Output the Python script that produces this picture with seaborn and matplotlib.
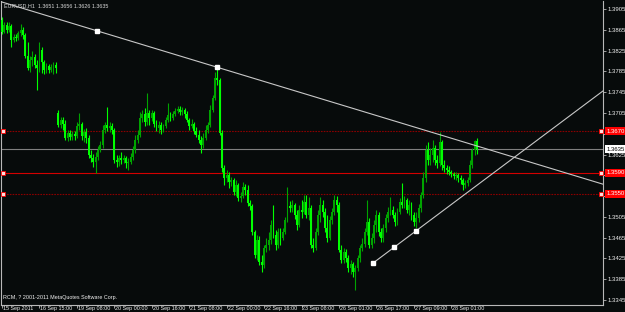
import numpy as np
import matplotlib
matplotlib.use("Agg")
import matplotlib.pyplot as plt
from matplotlib import font_manager
from matplotlib.transforms import blended_transform_factory
import seaborn as sns

# ---------------- data ----------------
symbol_text = "EURUSD,H1  1.3651 1.3656 1.3626 1.3635"
copyright_text = "RCM, ? 2001-2011 MetaQuotes Software Corp."

first_open = 1.3884
gap_opens = {24: 1.3705}

closes = [
    1.3861, 1.3874, 1.3865, 1.3872, 1.3845, 1.3851, 1.3849, 1.3859, 1.3865, 1.3855, 1.3815, 1.3792,
    1.3807, 1.3813, 1.3797, 1.3792, 1.3826, 1.3803, 1.3788, 1.3795, 1.3788, 1.3793, 1.3797, 1.3792,
    1.3682, 1.3691, 1.3684, 1.3657, 1.3666, 1.3659, 1.3664, 1.3661, 1.3680, 1.3684, 1.3661, 1.3668, 1.3657, 1.3624, 1.3618, 1.3611, 1.3620, 1.3634, 1.3643, 1.3672,
    1.3682, 1.3676, 1.3680, 1.3672, 1.3614, 1.3611, 1.3618, 1.3614, 1.3618, 1.3609, 1.3611, 1.3620, 1.3634, 1.3653, 1.3663, 1.3695, 1.3703, 1.3688, 1.3705, 1.3695,
    1.3705, 1.3684, 1.3676, 1.3682, 1.3672, 1.3680, 1.3691, 1.3701, 1.3695, 1.3703, 1.3709, 1.3713, 1.3707, 1.3711, 1.3703, 1.3691, 1.3680, 1.3684, 1.3670, 1.3663,
    1.3653, 1.3643, 1.3657, 1.3672, 1.3682, 1.3711, 1.3734, 1.3772, 1.3768, 1.3666, 1.3599, 1.3580, 1.3586, 1.3572, 1.3576, 1.3553, 1.3566, 1.3541, 1.3545, 1.3562,
    1.3557, 1.3532, 1.3526, 1.3476, 1.3432, 1.3461, 1.3418, 1.3412, 1.3445, 1.3451, 1.3461, 1.3489, 1.3470, 1.3451, 1.3476, 1.3464, 1.3476, 1.3499, 1.3526, 1.3522,
    1.3528, 1.3509, 1.3489, 1.3518, 1.3514, 1.3534, 1.3509, 1.3522, 1.3451, 1.3445, 1.3476, 1.3509, 1.3528, 1.3514, 1.3484, 1.3464, 1.3499, 1.3514, 1.3537, 1.3528,
    1.3441, 1.3422, 1.3437, 1.3426, 1.3407, 1.3414, 1.3399, 1.3407, 1.3426, 1.3445, 1.3453, 1.3476, 1.3495, 1.3451, 1.3464, 1.3489, 1.3509, 1.3476, 1.3464, 1.3484,
    1.3503, 1.3514, 1.3518, 1.3509, 1.3495, 1.3514, 1.3534, 1.3528, 1.3537, 1.3518, 1.3528, 1.3509, 1.3495, 1.3503, 1.3522, 1.3547, 1.3580, 1.3634, 1.3614, 1.3624,
    1.3638, 1.3614, 1.3609, 1.3649, 1.3605, 1.3599, 1.3595, 1.3591, 1.3587, 1.3584, 1.3586, 1.3580, 1.3576, 1.3566, 1.3570, 1.3576, 1.3605, 1.3634, 1.3651, 1.3635,
]
highs = [
    1.3890, 1.3880, 1.3880, 1.3880, 1.3876, 1.3857, 1.3857, 1.3863, 1.3876, 1.3870, 1.3859, 1.3842,
    1.3815, 1.3824, 1.3818, 1.3807, 1.3842, 1.3832, 1.3807, 1.3801, 1.3799, 1.3799, 1.3803, 1.3803,
    1.3711, 1.3697, 1.3697, 1.3691, 1.3672, 1.3672, 1.3670, 1.3670, 1.3688, 1.3705, 1.3688, 1.3674, 1.3676, 1.3663, 1.3634, 1.3626, 1.3630, 1.3641, 1.3651, 1.3682,
    1.3688, 1.3716, 1.3688, 1.3686, 1.3676, 1.3624, 1.3624, 1.3630, 1.3624, 1.3622, 1.3618, 1.3628, 1.3641, 1.3663, 1.3672, 1.3707, 1.3711, 1.3714, 1.3743, 1.3711,
    1.3711, 1.3709, 1.3691, 1.3690, 1.3688, 1.3684, 1.3697, 1.3724, 1.3707, 1.3709, 1.3714, 1.3718, 1.3718, 1.3716, 1.3714, 1.3709, 1.3695, 1.3693, 1.3688, 1.3678,
    1.3672, 1.3661, 1.3666, 1.3682, 1.3688, 1.3720, 1.3740, 1.3784, 1.3793, 1.3772, 1.3672, 1.3605, 1.3595, 1.3591, 1.3582, 1.3580, 1.3576, 1.3570, 1.3553, 1.3572,
    1.3568, 1.3566, 1.3537, 1.3530, 1.3480, 1.3470, 1.3468, 1.3432, 1.3451, 1.3464, 1.3476, 1.3499, 1.3528, 1.3480, 1.3484, 1.3484, 1.3484, 1.3505, 1.3562, 1.3536,
    1.3537, 1.3532, 1.3518, 1.3528, 1.3537, 1.3547, 1.3547, 1.3543, 1.3528, 1.3464, 1.3484, 1.3518, 1.3543, 1.3537, 1.3522, 1.3509, 1.3507, 1.3522, 1.3547, 1.3545,
    1.3534, 1.3451, 1.3445, 1.3443, 1.3432, 1.3422, 1.3418, 1.3412, 1.3432, 1.3451, 1.3464, 1.3484, 1.3537, 1.3503, 1.3474, 1.3499, 1.3518, 1.3514, 1.3484, 1.3491,
    1.3511, 1.3524, 1.3543, 1.3526, 1.3514, 1.3522, 1.3541, 1.3570, 1.3545, 1.3541, 1.3537, 1.3534, 1.3514, 1.3514, 1.3530, 1.3553, 1.3591, 1.3643, 1.3649, 1.3638,
    1.3653, 1.3643, 1.3624, 1.3668, 1.3653, 1.3614, 1.3605, 1.3603, 1.3595, 1.3591, 1.3591, 1.3589, 1.3586, 1.3580, 1.3576, 1.3582, 1.3614, 1.3638, 1.3653, 1.3656,
]
lows = [
    1.3857, 1.3859, 1.3859, 1.3861, 1.3832, 1.3842, 1.3843, 1.3845, 1.3853, 1.3847, 1.3811, 1.3788,
    1.3784, 1.3795, 1.3792, 1.3749, 1.3784, 1.3782, 1.3780, 1.3782, 1.3782, 1.3784, 1.3780, 1.3782,
    1.3678, 1.3676, 1.3672, 1.3653, 1.3651, 1.3653, 1.3653, 1.3653, 1.3657, 1.3672, 1.3653, 1.3649, 1.3647, 1.3618, 1.3611, 1.3601, 1.3589, 1.3614, 1.3630, 1.3638,
    1.3666, 1.3670, 1.3668, 1.3664, 1.3609, 1.3601, 1.3603, 1.3607, 1.3609, 1.3599, 1.3595, 1.3607, 1.3614, 1.3628, 1.3647, 1.3659, 1.3688, 1.3680, 1.3682, 1.3682,
    1.3690, 1.3678, 1.3670, 1.3666, 1.3664, 1.3668, 1.3676, 1.3688, 1.3690, 1.3691, 1.3699, 1.3705, 1.3701, 1.3701, 1.3695, 1.3688, 1.3672, 1.3676, 1.3664, 1.3659,
    1.3647, 1.3628, 1.3638, 1.3653, 1.3666, 1.3678, 1.3707, 1.3730, 1.3759, 1.3663, 1.3591, 1.3566, 1.3572, 1.3561, 1.3564, 1.3547, 1.3545, 1.3536, 1.3534, 1.3541,
    1.3547, 1.3526, 1.3518, 1.3470, 1.3426, 1.3422, 1.3412, 1.3399, 1.3407, 1.3437, 1.3441, 1.3453, 1.3464, 1.3441, 1.3445, 1.3451, 1.3461, 1.3472, 1.3495, 1.3514,
    1.3514, 1.3501, 1.3480, 1.3486, 1.3503, 1.3511, 1.3503, 1.3499, 1.3445, 1.3437, 1.3441, 1.3470, 1.3495, 1.3505, 1.3476, 1.3457, 1.3461, 1.3491, 1.3509, 1.3514,
    1.3437, 1.3416, 1.3416, 1.3418, 1.3399, 1.3395, 1.3389, 1.3364, 1.3401, 1.3418, 1.3439, 1.3447, 1.3470, 1.3445, 1.3445, 1.3455, 1.3476, 1.3468, 1.3457, 1.3457,
    1.3476, 1.3495, 1.3509, 1.3503, 1.3487, 1.3489, 1.3511, 1.3522, 1.3522, 1.3513, 1.3509, 1.3499, 1.3487, 1.3484, 1.3495, 1.3514, 1.3541, 1.3572, 1.3605, 1.3605,
    1.3611, 1.3605, 1.3599, 1.3603, 1.3595, 1.3591, 1.3588, 1.3586, 1.3582, 1.3578, 1.3576, 1.3572, 1.3568, 1.3557, 1.3561, 1.3564, 1.3572, 1.3599, 1.3624, 1.3626,
]

time_labels = ["15 Sep 2011", "16 Sep 15:00", "19 Sep 08:00", "20 Sep 00:00", "20 Sep 16:00",
               "21 Sep 08:00", "22 Sep 00:00", "22 Sep 16:00", "23 Sep 08:00", "26 Sep 01:00",
               "26 Sep 17:00", "27 Sep 09:00", "28 Sep 01:00"]
time_label_bars = [0, 16, 32, 48, 64, 80, 96, 112, 128, 144, 160, 176, 192]

price_ticks = [1.3345, 1.3385, 1.3425, 1.3465, 1.3505, 1.3545, 1.3585, 1.3625,
               1.3665, 1.3705, 1.3745, 1.3785, 1.3825, 1.3865, 1.3905]
hidden_tick_labels = [1.3545, 1.3585, 1.3665]   # covered by the red level boxes
level_prices = [1.3670, 1.3590, 1.3550]
bid_price = 1.3635

trend_down_bars = [40.6, 91.9]
trend_down_prices = [1.3863, 1.3793]
trend_up_bars = [158.5, 176.9]
trend_up_prices = [1.3416, 1.3478]

# ---------------- style ----------------
sns.set_theme(style="dark")
names = {f.name for f in font_manager.fontManager.ttflist}
if "Liberation Sans Narrow" in names:
    fam, fs, fs_small = ["Liberation Sans Narrow", "DejaVu Sans"], 4.9, 4.6
else:
    fam, fs, fs_small = ["Liberation Sans", "DejaVu Sans"], 4.3, 3.85
plt.rcParams["font.family"] = fam

BG = "#070b0b"
BEAR = "#00ff00"
BULL = "#00a400"
WHITE = "#f0f0f0"
FRAME = "#b8b8b8"

W, H = 625, 312
fig = plt.figure(figsize=(W / 100, H / 100), dpi=100, facecolor=BG)
ax = fig.add_axes([1 / W, 1 - 305 / H, 602 / W, 304 / H], facecolor=BG)

xmin, xmax = -0.43, 256.84
ax.set_xlim(xmin, xmax)
ax.set_ylim(1.33355, 1.39204)

o = np.array([first_open] + closes[:-1], dtype=float)
for k, v in gap_opens.items():
    o[k] = v
c = np.array(closes, dtype=float)
h = np.maximum(np.array(highs, dtype=float), np.maximum(o, c))
l = np.minimum(np.array(lows, dtype=float), np.minimum(o, c))
idx = np.arange(len(c))
bull = c >= o
cols = np.where(bull, BULL, BEAR)

ax.vlines(idx, l, h, colors=cols, linewidth=0.8, zorder=3)
body_lo = np.minimum(o, c)
body_h = np.maximum(np.abs(c - o), 0.00006)
ax.bar(idx, body_h, bottom=body_lo, width=0.8, color=cols, linewidth=0, zorder=4)

# horizontal levels
ax.axhline(level_prices[0], color="#8a0000", lw=0.8, ls=(0, (1.5, 1)), zorder=2)
ax.axhline(level_prices[1], color="#d40000", lw=0.8, zorder=2)
ax.axhline(level_prices[2], color="#8a0000", lw=0.8, ls=(0, (1.5, 1)), zorder=2)
ax.axhline(bid_price, color="#808080", lw=0.8, zorder=2)
for p in level_prices:
    ax.plot([0.3, 255.8], [p, p], ls="none", marker="s", ms=2.6, mfc="#ffdddd",
            mec="#ff0000", mew=0.6, zorder=6)

# trend lines
def ray(bx, py, x_start):
    slope = (py[1] - py[0]) / (bx[1] - bx[0])
    xs = [x_start, xmax + 1]
    ys = [py[0] + slope * (x - bx[0]) for x in xs]
    return xs, ys

xs, ys = ray(trend_down_bars, trend_down_prices, 2 * trend_down_bars[0] - trend_down_bars[1])
sns.lineplot(x=xs, y=ys, ax=ax, color="#c8c8c8", lw=0.8, zorder=5, legend=False)
ax.plot(trend_down_bars, trend_down_prices, ls="none", marker="s", ms=2.6, color="white", zorder=7)

xs, ys = ray(trend_up_bars, trend_up_prices, trend_up_bars[0])
sns.lineplot(x=xs, y=ys, ax=ax, color="#c8c8c8", lw=0.8, zorder=5, legend=False)
mid = [(trend_up_bars[0] + trend_up_bars[1]) / 2, (trend_up_prices[0] + trend_up_prices[1]) / 2]
ax.plot(trend_up_bars + [mid[0]], trend_up_prices + [mid[1]], ls="none", marker="s",
        ms=2.6, color="white", zorder=7)

# axes frame
ax.spines["top"].set_visible(False)
for s in ["left", "right", "bottom"]:
    ax.spines[s].set_color(FRAME)
    ax.spines[s].set_linewidth(0.8)
ax.grid(False)

ax.yaxis.tick_right()
ax.set_yticks(price_ticks)
ax.set_yticklabels(["" if p in hidden_tick_labels else f"{p:.4f}" for p in price_ticks])
ax.tick_params(axis="y", right=True, left=False, length=2, width=0.6, color=FRAME,
               labelcolor=WHITE, labelsize=fs, pad=1.5)
ax.set_xticks(time_label_bars)
ax.set_xticklabels([])
ax.tick_params(axis="x", bottom=True, length=2, width=0.6, color=FRAME, direction="out")

tb = blended_transform_factory(ax.transData, ax.transAxes)
for b, t in zip(time_label_bars, time_labels):
    ax.text(b + 0.4, -0.011, t, transform=tb, ha="left", va="center", fontsize=fs_small,
            color=WHITE, clip_on=False)

ty = blended_transform_factory(ax.transAxes, ax.transData)
for p in level_prices:
    ax.text(1.0055, p, f"{p:.4f}", transform=ty, ha="left", va="center", fontsize=fs,
            color="#ffffff", clip_on=False, zorder=10,
            bbox=dict(boxstyle="square,pad=0.25", fc="#ff0000", ec="#ff0000", lw=0))
ax.text(1.0055, bid_price, f"{bid_price:.4f}", transform=ty, ha="left", va="center",
        fontsize=fs, color="#000000", clip_on=False, zorder=10,
        bbox=dict(boxstyle="square,pad=0.25", fc="#ffffff", ec="#ffffff", lw=0))

fig.text(4 / W, 1 - 6 / H, symbol_text, ha="left", va="center", fontsize=fs_small, color="#d8d8d8")
fig.text(3 / W, 1 - 297 / H, copyright_text, ha="left", va="center", fontsize=fs_small, color=WHITE)

fig.savefig("out.png", dpi=100, facecolor=BG)
